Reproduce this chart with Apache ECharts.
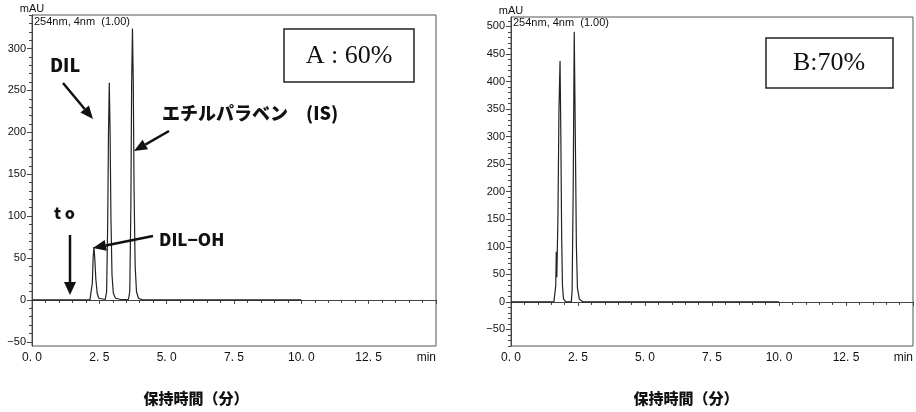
<!DOCTYPE html>
<html>
<head>
<meta charset="utf-8">
<script src="https://cdn.jsdelivr.net/npm/echarts@6/dist/echarts.min.js"></script>
<style>
html, body { margin: 0; padding: 0; background: #fff; }
#main { width: 916px; height: 412px; }
</style>
</head>
<body>
<div id="main"></div>
<script>
// chromatogram A (60%) : retention time (min) / signal (mAU)
var timeA = [0, 2.15, 2.2, 2.24, 2.27, 2.3, 2.33, 2.37, 2.42, 2.48, 2.55, 2.72, 2.77, 2.81, 2.84, 2.87, 2.9, 2.93, 2.97, 3.02, 3.1, 3.3,
  3.58, 3.63, 3.67, 3.7, 3.73, 3.76, 3.79, 3.83, 3.88, 3.95, 4.1, 10];
var mauA = [0, 0, 2, 20, 50, 63, 50, 25, 8, 2, 0.5, 0.5, 10, 90, 200, 259, 200, 100, 30, 8, 2, 0.5,
  0.5, 10, 110, 260, 324, 260, 130, 40, 10, 2, 0, 0];

// chromatogram B (70%)
var timeB = [0, 1.6, 1.64, 1.67, 1.69, 1.71, 1.75, 1.79, 1.83, 1.86, 1.89, 1.92, 1.96, 2.05,
  2.25, 2.28, 2.32, 2.36, 2.4, 2.44, 2.48, 2.55, 2.7, 10];
var mauB = [0, 0, 3, 30, 91, 45, 150, 350, 437, 300, 120, 30, 5, 0,
  0, 20, 200, 490, 300, 100, 25, 5, 0, 0];

var xTicks = [0, 2.5, 5, 7.5, 10, 12.5, 15];
var yTicksA = [-50, 0, 50, 100, 150, 200, 250, 300];
var yTicksB = [-50, 0, 50, 100, 150, 200, 250, 300, 350, 400, 450, 500];

var boxA = 'A : 60%';
var boxB = 'B:70%';
var detector = '254nm, 4nm  (1.00)';
var xTitle = '保持時間（分）';

function zip(t, v) {
  return t.map(function (x, i) { return [x, v[i]]; });
}
function minorTicks(from, to, step) {
  var out = [];
  for (var v = from; v <= to; v += step) out.push(v);
  return out;
}

var chart = echarts.init(document.getElementById('main'));

var axisCol = '#444';
var labelFont = 'Liberation Sans';

function xAxisCfg(grid) {
  return {
    type: 'value', gridIndex: grid, min: 0, max: 15, interval: 2.5,
    axisLine: { lineStyle: { color: axisCol, width: 1 } },
    axisTick: { length: 4, lineStyle: { color: axisCol } },
    minorTick: { show: true, splitNumber: 5, length: 3, lineStyle: { color: axisCol } },
    splitLine: { show: false },
    axisLabel: {
      color: '#111', fontSize: 12, fontFamily: labelFont, margin: 6, alignMaxLabel: 'right',
      formatter: function (v) { return v === 15 ? 'min' : v.toFixed(1).replace('.', '. '); }
    }
  };
}
function yAxisCfg(grid, min, max, ticks) {
  return {
    type: 'value', gridIndex: grid, min: min, max: max, position: 'left',
    name: 'mAU', nameLocation: 'end', nameGap: 1,
    nameTextStyle: { color: '#111', fontSize: 11, fontFamily: labelFont, align: 'center' },
    axisLine: { show: true, lineStyle: { color: axisCol, width: 1 } },
    axisTick: { show: true, length: 5, customValues: ticks, lineStyle: { color: axisCol } },
    splitLine: { show: false },
    axisLabel: {
      color: '#111', fontSize: 11, fontFamily: labelFont, margin: 6, customValues: ticks,
      formatter: function (v) { return String(v).replace('-', '−'); }
    }
  };
}
// extra axis only for the small 10 mAU ticks
function yMinorCfg(grid, min, max, ticks) {
  return {
    type: 'value', gridIndex: grid, min: min, max: max, position: 'left', offset: 0,
    axisLine: { show: false },
    axisTick: { show: true, length: 3, customValues: ticks, lineStyle: { color: axisCol } },
    axisLabel: { show: false },
    splitLine: { show: false }
  };
}

function arrow(x1, y1, x2, y2, head, w) {
  var a = Math.atan2(y2 - y1, x2 - x1);
  var bx = x2 - head * Math.cos(a), by = y2 - head * Math.sin(a);
  var px = Math.sin(a) * w / 2, py = -Math.cos(a) * w / 2;
  return [
    { type: 'line', z: 100, shape: { x1: x1, y1: y1, x2: bx, y2: by }, style: { stroke: '#111', lineWidth: 2.5 } },
    { type: 'polygon', z: 100, shape: { points: [[x2, y2], [bx + px, by + py], [bx - px, by - py]] }, style: { fill: '#111' } }
  ];
}
function label(txt, x, y, size, extra) {
  var s = { text: txt, x: x, y: y, fill: '#111', fontSize: size, fontWeight: 900, fontFamily: 'Noto Sans CJK JP' };
  for (var k in extra) s[k] = extra[k];
  return { type: 'text', z: 100, style: s };
}

var graphics = [];
// detector info
graphics.push({ type: 'text', z: 100, style: { text: detector, x: 34, y: 16, fill: '#111', fontSize: 11, fontFamily: labelFont } });
graphics.push({ type: 'text', z: 100, style: { text: detector, x: 513, y: 17, fill: '#111', fontSize: 11, fontFamily: labelFont } });
// condition boxes
graphics.push({ type: 'rect', z: 100, shape: { x: 284, y: 29, width: 130, height: 53 }, style: { fill: '#fff', stroke: '#222', lineWidth: 1.5 } });
graphics.push({ type: 'text', z: 101, style: { text: boxA, x: 349, y: 56, align: 'center', verticalAlign: 'middle', fill: '#111', fontSize: 26, fontFamily: 'Liberation Serif' } });
graphics.push({ type: 'rect', z: 100, shape: { x: 766, y: 38, width: 127, height: 50 }, style: { fill: '#fff', stroke: '#222', lineWidth: 1.5 } });
graphics.push({ type: 'text', z: 101, style: { text: boxB, x: 829, y: 63, align: 'center', verticalAlign: 'middle', fill: '#111', fontSize: 26, fontFamily: 'Liberation Serif' } });
// peak annotations (chart A)
graphics.push(label('DIL', 50, 56, 18));
graphics = graphics.concat(arrow(63, 83, 93, 119, 13, 11));
graphics.push(label('t o', 54, 205, 16));
graphics = graphics.concat(arrow(70, 235, 70, 295, 13, 12));
graphics.push(label('DIL−OH', 159, 231, 17));
graphics = graphics.concat(arrow(153, 236, 93, 248, 13, 11));
graphics.push(label('エチルパラベン　(IS)', 162, 104, 18));
graphics = graphics.concat(arrow(169, 131, 134, 151, 13, 11));
// x axis titles
graphics.push(label(xTitle, 196, 398, 15, { align: 'center', verticalAlign: 'middle' }));
graphics.push(label(xTitle, 686, 398, 15, { align: 'center', verticalAlign: 'middle' }));

chart.setOption({
  animation: false,
  backgroundColor: '#fff',
  grid: [
    { left: 32, top: 15, width: 404, height: 331, show: true, borderColor: '#555', borderWidth: 1 },
    { left: 511, top: 17, width: 402, height: 329, show: true, borderColor: '#555', borderWidth: 1 }
  ],
  xAxis: [xAxisCfg(0), xAxisCfg(1)],
  yAxis: [
    yAxisCfg(0, -55, 340, yTicksA),
    yAxisCfg(1, -80, 517, yTicksB),
    yMinorCfg(0, -55, 340, minorTicks(-50, 340, 10)),
    yMinorCfg(1, -80, 517, minorTicks(-80, 510, 10))
  ],
  series: [
    { type: 'line', xAxisIndex: 0, yAxisIndex: 0, data: zip(timeA, mauA), showSymbol: false,
      lineStyle: { color: '#222', width: 1.2 } },
    { type: 'line', xAxisIndex: 1, yAxisIndex: 1, data: zip(timeB, mauB), showSymbol: false,
      lineStyle: { color: '#222', width: 1.2 } }
  ],
  graphic: graphics
});
</script>
</body>
</html>
